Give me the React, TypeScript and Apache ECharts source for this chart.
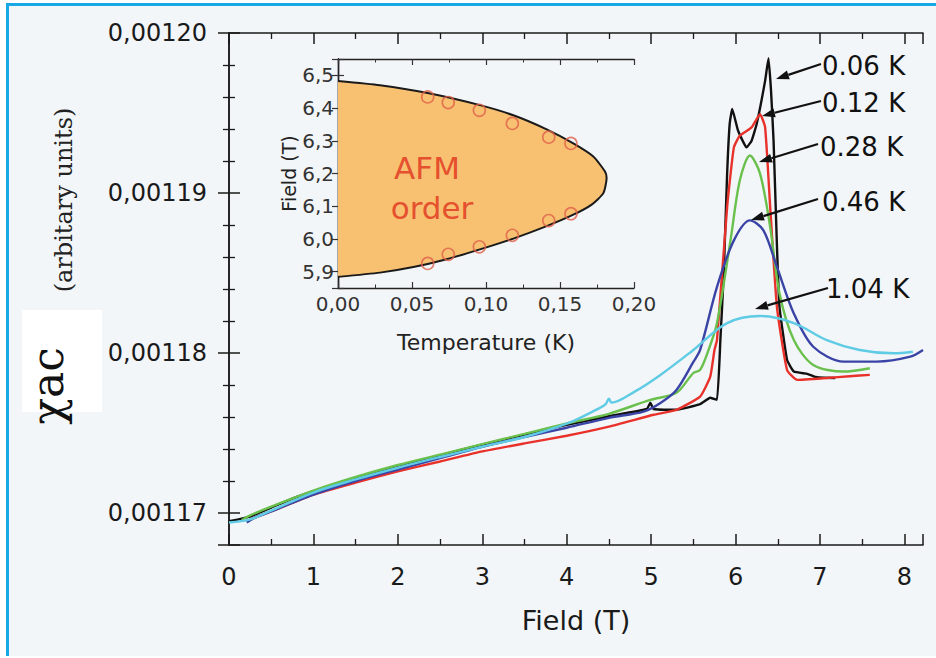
import React, { useEffect, useRef } from 'react';
import * as echarts from 'echarts';

// ---- Main panel: chi_ac vs field (x: Field in T, y: chi_ac in arbitrary units)
const temperatures = ['0.06 K', '0.12 K', '0.28 K', '0.46 K', '1.04 K'];

const curve006: [number, number][] = [
  [0.0, 0.00116949], [0.25, 0.00116978], [0.5, 0.00117034], [0.75, 0.0011709], [1.0, 0.00117136],
  [1.5, 0.00117218], [2.0, 0.00117292], [2.5, 0.0011736], [3.0, 0.00117427], [3.5, 0.0011749],
  [4.0, 0.00117551], [4.5, 0.00117605], [4.95, 0.0011765], [4.99, 0.0011769], [5.03, 0.0011765],
  [5.3, 0.00117645], [5.58, 0.0011768], [5.7, 0.0011772], [5.78, 0.00117707], [5.82, 0.00118081],
  [5.86, 0.00118497], [5.9, 0.0011912], [5.93, 0.00119431], [5.96, 0.00119525], [6.03, 0.00119389],
  [6.13, 0.00119285], [6.19, 0.00119327], [6.25, 0.00119431], [6.35, 0.00119701], [6.39, 0.00119842],
  [6.42, 0.00119639], [6.45, 0.00119327], [6.49, 0.0011867], [6.52, 0.00118289], [6.61, 0.00117956],
  [6.69, 0.00117884], [6.85, 0.0011787], [6.95, 0.0011785], [7.05, 0.00117845], [7.18, 0.00117844],
];

const curve012: [number, number][] = [
  [0.25, 0.0011696], [0.5, 0.0011701], [1.0, 0.00117115], [1.5, 0.0011719], [2.0, 0.0011726],
  [2.5, 0.00117322], [3.0, 0.00117385], [3.5, 0.00117435], [4.0, 0.00117483], [4.5, 0.0011754],
  [5.03, 0.00117614], [5.3, 0.00117645], [5.58, 0.00117728], [5.7, 0.00117852], [5.75, 0.00118019],
  [5.78, 0.00118081], [5.9, 0.00118912], [5.98, 0.00119285], [6.05, 0.00119358], [6.19, 0.0011941],
  [6.29, 0.00119493], [6.35, 0.0011941], [6.41, 0.00118912], [6.49, 0.00118289], [6.61, 0.00117894],
  [6.73, 0.00117832], [7.08, 0.00117844], [7.35, 0.00117855], [7.59, 0.00117863],
];

const curve028: [number, number][] = [
  [0.15, 0.00116955], [0.25, 0.00116985], [0.5, 0.0011704], [1.0, 0.0011714], [1.5, 0.00117225],
  [2.0, 0.001173], [2.5, 0.00117365], [3.0, 0.0011743], [3.5, 0.00117495], [4.0, 0.0011756],
  [4.5, 0.0011762], [4.99, 0.00117707], [5.3, 0.00117751], [5.5, 0.00117875], [5.58, 0.00117894],
  [5.68, 0.00118019], [5.78, 0.00118187], [5.94, 0.00118704], [6.05, 0.00119078], [6.17, 0.00119234],
  [6.29, 0.00119121], [6.41, 0.00118787], [6.52, 0.00118374], [6.69, 0.00118081], [6.92, 0.00117925],
  [7.28, 0.00117884], [7.59, 0.00117905],
];

const curve046: [number, number][] = [
  [0.21, 0.00116941], [0.3, 0.0011697], [0.5, 0.0011701], [1.0, 0.00117115], [1.5, 0.001172],
  [2.0, 0.00117271], [2.5, 0.00117343], [3.0, 0.00117414], [3.5, 0.00117475], [4.0, 0.00117533],
  [4.5, 0.00117595], [4.91, 0.00117634], [5.11, 0.00117688], [5.3, 0.00117769], [5.5, 0.00117944],
  [5.58, 0.00118019], [5.78, 0.00118413], [5.98, 0.00118704], [6.17, 0.00118829], [6.33, 0.00118766],
  [6.49, 0.00118538], [6.69, 0.00118247], [6.92, 0.00118039], [7.28, 0.00117946], [7.67, 0.00117946],
  [8.07, 0.00117977], [8.22, 0.00118019],
];

const curve104: [number, number][] = [
  [0.0, 0.00116941], [0.25, 0.0011696], [0.5, 0.00117015], [1.0, 0.00117128], [1.5, 0.0011721],
  [2.0, 0.00117283], [2.5, 0.0011735], [3.0, 0.00117414], [3.5, 0.00117475], [4.0, 0.00117558],
  [4.3, 0.00117632], [4.46, 0.0011768], [4.5, 0.00117715], [4.53, 0.0011769], [4.8, 0.00117757],
  [5.11, 0.00117863], [5.5, 0.00118019], [5.9, 0.00118187], [6.29, 0.00118231], [6.69, 0.00118187],
  [7.08, 0.00118081], [7.47, 0.00118019], [7.87, 0.00117998], [8.1, 0.00118008],
];

const seriesData = [curve006, curve012, curve028, curve046, curve104];
const seriesColors = ['#111111', '#e8312a', '#69c04c', '#3a44a6', '#5fcbe4'];
const seriesSmooth = [0.12, 0.15, 0.3, 0.3, 0.35];

// ---- Inset: phase diagram (Temperature in K vs Field in T)
const phaseBoundary: [number, number][] = [
  [0.0, 6.483], [0.0284, 6.47], [0.0606, 6.446], [0.0959, 6.409], [0.1185, 6.378], [0.141, 6.335],
  [0.159, 6.292], [0.1725, 6.252], [0.1804, 6.206], [0.1815, 6.186], [0.1793, 6.14], [0.1714, 6.105],
  [0.159, 6.074], [0.141, 6.039], [0.1185, 6.001], [0.0959, 5.968], [0.0734, 5.938], [0.0509, 5.914],
  [0.0284, 5.897], [0.0, 5.884],
];

const phasePoints: [number, number][] = [
  [0.0606, 6.434], [0.0745, 6.417], [0.0955, 6.393], [0.1178, 6.353], [0.1424, 6.311], [0.1574, 6.292],
  [0.0606, 5.925], [0.0745, 5.953], [0.0955, 5.976], [0.1178, 6.011], [0.1424, 6.056], [0.1574, 6.077],
];

const FONT = 'DejaVu Sans';
const INK = '#1a1a1a';

const near = (v: number, step: number) => Math.abs(v / step - Math.round(v / step)) < 1e-6;

const mainYLabel = (v: number) => (near(v, 0.00001) ? v.toFixed(5).replace('.', ',') : '');
const mainXLabel = (v: number) => (near(v, 1) ? String(Math.round(v)) : '');
const insetXLabel = (v: number) => (near(v, 0.05) ? v.toFixed(2).replace('.', ',') : '');
const insetYLabel = (v: number) => (near(v, 0.1) ? v.toFixed(1).replace('.', ',') : '');

function buildOption(): any {
  const line = { show: true, lineStyle: { color: INK, width: 1.5 } };
  const mainTick = { show: true, inside: true, length: 11, lineStyle: { color: INK, width: 1.5 } };
  const mainMinor = (n: number) => ({ show: true, splitNumber: n, length: 6, lineStyle: { color: INK, width: 1.3 } });
  const insetTick = { show: true, inside: true, length: 6, lineStyle: { color: '#333', width: 1.2 } };
  const insetMinor = { show: true, splitNumber: 2, length: 3.5, lineStyle: { color: '#333', width: 1 } };
  const noSplit = { show: false };
  const hidden = { show: false };

  const mainX = { type: 'value', min: 0, max: 8.22, interval: 1, splitLine: noSplit, minorSplitLine: noSplit, axisLine: line };
  const mainY = { type: 'value', min: 0.001168, max: 0.0012, splitNumber: 3, scale: true, splitLine: noSplit, minorSplitLine: noSplit, axisLine: line };
  const inX = { type: 'value', min: 0, max: 0.2, interval: 0.05, splitLine: noSplit, minorSplitLine: noSplit, axisLine: { show: true, lineStyle: { color: '#222', width: 1.4 } } };
  const inY = { type: 'value', min: 5.85, max: 6.55, splitNumber: 7, scale: true, splitLine: noSplit, minorSplitLine: noSplit, axisLine: { show: true, lineStyle: { color: '#222', width: 1.4 } } };

  const arrows = [
    { tail: [821, 64], tip: [776, 79] },
    { tail: [821, 101], tip: [762, 116] },
    { tail: [818, 144], tip: [759, 162] },
    { tail: [818, 199], tip: [751, 220] },
    { tail: [828, 288], tip: [755, 309] },
  ];
  const labelPos = [
    [822, 66], [822, 103], [820, 147], [822, 202], [826, 289],
  ];

  const graphics: any[] = [
    { type: 'rect', z: -5, shape: { x: 22, y: 310, width: 80, height: 102 }, style: { fill: '#ffffff' } },
    {
      type: 'text', z: 50, x: 47, y: 386, rotation: Math.PI / 2,
      style: { text: 'χac', fontSize: 44, fontFamily: 'DejaVu Serif', fill: '#111', align: 'center', verticalAlign: 'middle' },
    },
    {
      type: 'text', z: 50, x: 64, y: 200, rotation: Math.PI / 2,
      style: { text: '(arbitary units)', fontSize: 24, fontFamily: 'DejaVu Serif', fill: '#222', align: 'center', verticalAlign: 'middle' },
    },
    {
      type: 'text', z: 50, x: 427, y: 168,
      style: { text: 'AFM', fontSize: 31, fontFamily: FONT, fill: '#e5502e', align: 'center', verticalAlign: 'middle' },
    },
    {
      type: 'text', z: 50, x: 432, y: 208,
      style: { text: 'order', fontSize: 31, fontFamily: FONT, fill: '#e5502e', align: 'center', verticalAlign: 'middle' },
    },
  ];
  arrows.forEach((a, i) => {
    const [x1, y1] = a.tail;
    const [x2, y2] = a.tip;
    const dx = x2 - x1, dy = y2 - y1;
    const len = Math.hypot(dx, dy);
    const ux = dx / len, uy = dy / len;
    const hl = 13, hw = 4.5;
    const bx = x2 - ux * hl, by = y2 - uy * hl;
    graphics.push({ type: 'line', z: 50, shape: { x1, y1, x2: bx, y2: by }, style: { stroke: '#111', lineWidth: 2.2 } });
    graphics.push({
      type: 'polygon', z: 50,
      shape: { points: [[x2, y2], [bx - uy * hw, by + ux * hw], [bx + uy * hw, by - ux * hw]] },
      style: { fill: '#111' },
    });
    graphics.push({
      type: 'text', z: 50, x: labelPos[i][0], y: labelPos[i][1],
      style: { text: temperatures[i], fontSize: 26, fontFamily: FONT, fill: '#111', align: 'left', verticalAlign: 'middle' },
    });
  });

  const drawOrder = [0, 1, 3, 2, 4];

  return {
    animation: false,
    backgroundColor: 'transparent',
    grid: [
      { left: 229, top: 33, right: 13, bottom: 113, containLabel: false },
      { left: 338, top: 59, width: 296, height: 229, containLabel: false },
    ],
    xAxis: [
      {
        ...mainX, gridIndex: 0, position: 'bottom', axisTick: mainTick, minorTick: mainMinor(2),
        axisLabel: { margin: 20, fontSize: 24, fontFamily: FONT, color: INK, formatter: mainXLabel },
        name: 'Field (T)', nameLocation: 'middle', nameGap: 62,
        nameTextStyle: { fontSize: 27, fontFamily: FONT, color: INK },
      },
      { ...mainX, gridIndex: 0, position: 'top', axisTick: mainTick, minorTick: mainMinor(2), axisLabel: hidden },
      {
        ...inX, gridIndex: 1, position: 'bottom', axisTick: insetTick, minorTick: insetMinor,
        axisLabel: { margin: 6, fontSize: 20, fontFamily: FONT, color: '#333', formatter: insetXLabel },
        name: 'Temperature (K)', nameLocation: 'middle', nameGap: 43,
        nameTextStyle: { fontSize: 22, fontFamily: FONT, color: '#222' },
      },
      { ...inX, gridIndex: 1, position: 'top', axisTick: insetTick, minorTick: insetMinor, axisLabel: hidden },
    ],
    yAxis: [
      {
        ...mainY, gridIndex: 0, position: 'left', axisTick: mainTick, minorTick: mainMinor(5),
        axisLabel: { margin: 22, fontSize: 24, fontFamily: FONT, color: INK, formatter: mainYLabel },
      },
      { ...mainY, gridIndex: 0, position: 'right', axisTick: mainTick, minorTick: mainMinor(5), axisLabel: hidden },
      {
        ...inY, gridIndex: 1, position: 'left', axisTick: insetTick,
        axisLabel: { margin: 4, fontSize: 20, fontFamily: FONT, color: '#333', formatter: insetYLabel },
        name: 'Field (T)', nameLocation: 'middle', nameGap: 30, nameRotate: 90,
        nameTextStyle: { fontSize: 19, fontFamily: FONT, color: '#222' },
      },
      { ...inY, gridIndex: 1, position: 'right', axisTick: insetTick, axisLabel: hidden },
    ],
    series: [
      ...drawOrder.map((i) => ({
        type: 'line', name: temperatures[i], xAxisIndex: 0, yAxisIndex: 0, data: seriesData[i],
        showSymbol: false, symbol: 'none', smooth: seriesSmooth[i],
        lineStyle: { color: seriesColors[i], width: 2.4 }, z: 2 + i * 0.01,
      })),
      {
        type: 'custom', xAxisIndex: 2, yAxisIndex: 2, data: [[0.1, 6.2]], z: 1, silent: true,
        renderItem: (_p: any, api: any) => ({
          type: 'polygon',
          shape: { points: phaseBoundary.map((p) => api.coord(p)) },
          style: { fill: '#f8c172' },
        }),
      },
      {
        type: 'line', xAxisIndex: 2, yAxisIndex: 2, data: phaseBoundary, showSymbol: false, symbol: 'none',
        smooth: 0.2, lineStyle: { color: '#1a1a1a', width: 2 }, z: 3,
      },
      {
        type: 'scatter', xAxisIndex: 2, yAxisIndex: 2, data: phasePoints, symbol: 'circle', symbolSize: 12,
        itemStyle: { color: 'rgba(0,0,0,0)', borderColor: '#e0604a', borderWidth: 1.6 }, z: 4,
      },
    ],
    graphic: graphics,
  };
}

export default function App() {
  const ref = useRef<HTMLDivElement>(null);
  useEffect(() => {
    if (!ref.current) return;
    const chart = echarts.init(ref.current, undefined, { renderer: 'svg' });
    chart.setOption(buildOption());
    return () => chart.dispose();
  }, []);
  return (
    <div style={{ position: 'fixed', left: 0, top: 0, width: 936, height: 658, background: '#ffffff', overflow: 'hidden' }}>
      <div
        style={{
          position: 'absolute', left: 6, top: 3, width: 940, height: 653, boxSizing: 'border-box',
          background: '#f3f6f8', borderLeft: '3px solid #17a8e6', borderTop: '3px solid #17a8e6',
        }}
      />
      <div ref={ref} style={{ position: 'absolute', left: 0, top: 0, width: 936, height: 658 }} />
    </div>
  );
}
